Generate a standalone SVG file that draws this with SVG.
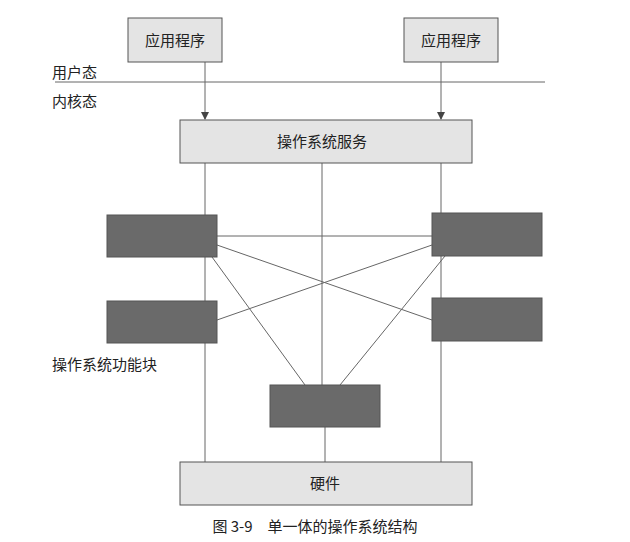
<svg xmlns="http://www.w3.org/2000/svg" width="630" height="542" viewBox="0 0 630 542">
<style>
text{font-family:"Noto Sans CJK SC","Liberation Sans",sans-serif;fill:#222;font-size:15px}
.lt{fill:#e4e4e4;stroke:#555;stroke-width:1}
.dk{fill:#6a6a6a;stroke:#555}
.ln{stroke:#666;stroke-width:1;fill:none}
</style>
<defs><marker id="a" markerWidth="8" markerHeight="8" refX="7" refY="4" orient="auto" markerUnits="userSpaceOnUse"><path d="M0,0 L8,4 L0,8z" fill="#444"/></marker></defs>
<rect width="630" height="542" fill="#fff"/>
<g id="connectors">
<line class="ln" x1="55" y1="82" x2="545" y2="82"/>
<line class="ln" x1="205" y1="62" x2="205" y2="119" marker-end="url(#a)"/>
<line class="ln" x1="441" y1="62" x2="441" y2="119" marker-end="url(#a)"/>
<line class="ln" x1="205" y1="163" x2="205" y2="462"/>
<line class="ln" x1="322" y1="163" x2="322" y2="385"/>
<line class="ln" x1="441" y1="163" x2="441" y2="462"/>
<line class="ln" x1="325" y1="427" x2="325" y2="462"/>
<line class="ln" x1="217" y1="236" x2="432" y2="236"/>
<line class="ln" x1="217" y1="245" x2="432" y2="320"/>
<line class="ln" x1="217" y1="320" x2="432" y2="245"/>
<line class="ln" x1="212" y1="257" x2="305" y2="385"/>
<line class="ln" x1="445" y1="256" x2="340" y2="385"/>
</g>
<g id="app1"><rect class="lt" x="128" y="18" width="94" height="44"/><text x="175" y="46" text-anchor="middle">应用程序</text></g>
<g id="app2"><rect class="lt" x="404" y="18" width="94" height="44"/><text x="451" y="46" text-anchor="middle">应用程序</text></g>
<g id="labels"><text x="52" y="78">用户态</text><text x="52" y="107">内核态</text><text x="52" y="370">操作系统功能块</text></g>
<g id="service"><rect class="lt" x="180" y="120" width="292" height="43"/><text x="322" y="147" text-anchor="middle">操作系统服务</text></g>
<g id="b1"><rect class="dk" x="107" y="215" width="110" height="42"/></g>
<g id="b2"><rect class="dk" x="432" y="213" width="110" height="43"/></g>
<g id="b3"><rect class="dk" x="107" y="301" width="110" height="42"/></g>
<g id="b4"><rect class="dk" x="432" y="298" width="110" height="43"/></g>
<g id="b5"><rect class="dk" x="270" y="385" width="110" height="42"/></g>
<g id="hw"><rect class="lt" x="180" y="462" width="292" height="43"/><text x="325" y="489" text-anchor="middle">硬件</text></g>
<g id="caption"><text x="315" y="532" text-anchor="middle" font-size="14">图 3-9　单一体的操作系统结构</text></g>
</svg>
